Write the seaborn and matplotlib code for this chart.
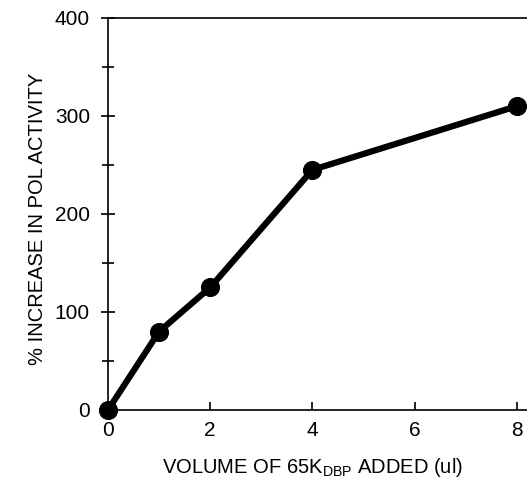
import matplotlib
matplotlib.use("Agg")
import matplotlib.pyplot as plt
import seaborn as sns
import pandas as pd
from matplotlib.ticker import MultipleLocator

# data
volume = [0, 1, 2, 4, 8]
increase = [0, 80, 125, 245, 310]
x_ticks = [0, 2, 4, 6, 8]
y_ticks = [0, 100, 200, 300, 400]

sns.set_style("ticks")
plt.rcParams['font.family'] = ['Liberation Sans', 'DejaVu Sans']
plt.rcParams['mathtext.fontset'] = 'custom'
plt.rcParams['mathtext.rm'] = 'Liberation Sans'
plt.rcParams['mathtext.it'] = 'Liberation Sans'

df = pd.DataFrame({"vol": volume, "inc": increase})

fig = plt.figure(figsize=(5.27, 4.8), dpi=100)
ax = fig.add_axes([0.205, 0.146, 0.795, 0.8165])

sns.lineplot(data=df, x="vol", y="inc", ax=ax, color="black", linewidth=4.5,
             marker="o", markersize=13, markeredgecolor="black", clip_on=False,
             zorder=5)

ax.set_xlim(0, 8.2)
ax.set_ylim(0, 400)
ax.set_xticks(x_ticks)
ax.set_yticks(y_ticks)
ax.yaxis.set_minor_locator(MultipleLocator(50))
ax.tick_params(axis='x', direction='in', length=6, width=1.2, labelsize=15, pad=8,
               colors='black')
ax.tick_params(axis='y', which='major', direction='inout', length=10, width=1.2,
               labelsize=15, pad=8, colors='black')
ax.tick_params(axis='y', which='minor', direction='inout', length=8, width=1.2,
               colors='black')

for s in ["left", "bottom", "top"]:
    ax.spines[s].set_linewidth(1.2)
    ax.spines[s].set_color('black')
ax.spines["right"].set_visible(False)

ax.set_xlabel("VOLUME OF 65K$_{\\mathrm{DBP}}$ ADDED (ul)", fontsize=14.5, color='black')
ax.set_ylabel("% INCREASE IN POL ACTIVITY", fontsize=14.5, color='black')
ax.xaxis.set_label_coords(0.487, -0.118)
ax.yaxis.set_label_coords(-0.145, 0.487)

fig.savefig("out.png", dpi=100)
